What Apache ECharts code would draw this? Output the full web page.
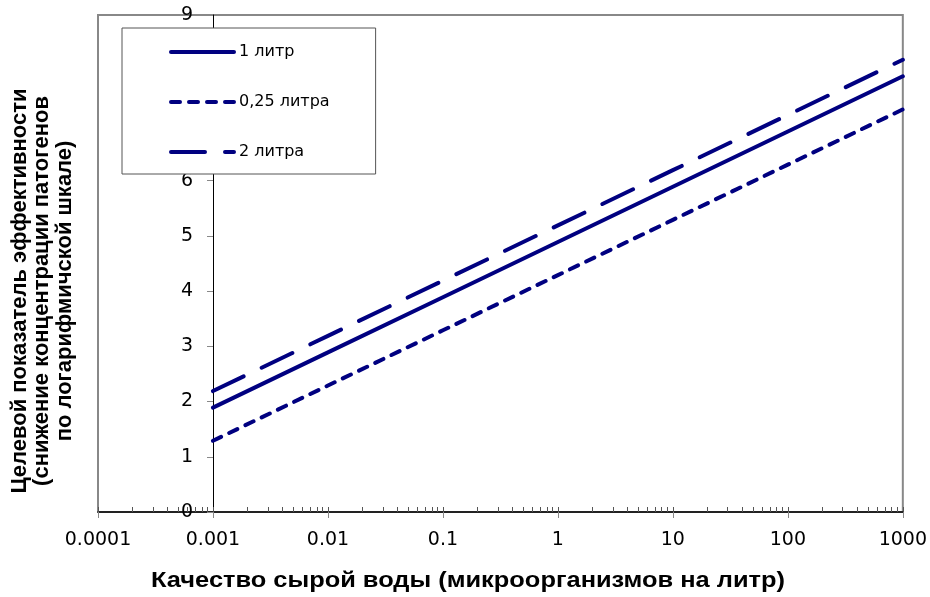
<!DOCTYPE html>
<html>
<head>
<meta charset="utf-8">
<script src="https://cdn.jsdelivr.net/npm/echarts@6/dist/echarts.min.js"></script>
<style>
html,body{margin:0;padding:0;background:#fff;}
#chart{width:930px;height:597px;}
</style>
</head>
<body>
<div id="chart"></div>
<script>
// ---- data ----
const xValues = [0.001, 0.01, 0.1, 1, 10, 100, 1000];
const seriesNames = ['1 литр', '0,25 литра', '2 литра'];
const vol1 = [1.89, 2.89, 3.89, 4.89, 5.89, 6.89, 7.89];
const vol025 = [1.29, 2.29, 3.29, 4.29, 5.29, 6.29, 7.29];
const vol2 = [2.19, 3.19, 4.19, 5.19, 6.19, 7.19, 8.19];
const xTicks = [0.0001, 0.001, 0.01, 0.1, 1, 10, 100, 1000];
const xTickLabels = ['0.0001', '0.001', '0.01', '0.1', '1', '10', '100', '1000'];
const minorMultipliers = [2, 3, 4, 5, 6, 7, 8, 9];
const yTickLabels = ['0', '1', '2', '3', '4', '5', '6', '7', '8', '9'];
const xTitle = 'Качество сырой воды (микроорганизмов на литр)';
const yTitleLines = ['Целевой показатель эффективности', '(снижение концентрации патогенов', 'по логарифмичской шкале)'];

// ---- build ----
const minorTicks = [];
xTicks.slice(0, -1).forEach(d => minorMultipliers.forEach(m => minorTicks.push(+(d * m).toPrecision(6))));
const pair = vals => xValues.map((x, i) => [x, vals[i]]);
const navy = '#000080';
const TITLE_FONT = 'Liberation Sans, Arial, sans-serif';
const LABEL_FONT = 'DejaVu Sans, sans-serif';

function xLabel(v) {
  const i = xTicks.findIndex(t => Math.abs(Math.log10(t) - Math.log10(v)) < 1e-6);
  return i >= 0 ? xTickLabels[i] : '';
}

const chart = echarts.init(document.getElementById('chart'), null, {renderer: 'canvas'});
const lineDefs = [
  {name: seriesNames[0], data: pair(vol1), type: 'solid'},
  {name: seriesNames[1], data: pair(vol025), type: [9, 9]},
  {name: seriesNames[2], data: pair(vol2), type: [34, 20]}
];

chart.setOption({
  animation: false,
  backgroundColor: '#fff',
  textStyle: {fontFamily: LABEL_FONT},
  grid: {left: 98, right: 27, top: 15, bottom: 85, show: true, borderColor: '#888', borderWidth: 2, backgroundColor: 'transparent'},
  xAxis: [{
    type: 'log', logBase: 10, min: 0.0001, max: 1000,
    axisLine: {lineStyle: {color: '#000', width: 1.5}},
    axisTick: {show: true, inside: false, length: 6, lineStyle: {color: '#888'}, customValues: xTicks},
    axisLabel: {show: true, color: '#000', fontSize: 19, margin: 19, customValues: xTicks, formatter: xLabel, fontFamily: LABEL_FONT},
    splitLine: {show: false}, minorTick: {show: false}
  }, {
    type: 'log', logBase: 10, min: 0.0001, max: 1000,
    gridIndex: 0, position: 'bottom',
    axisLine: {show: false},
    axisTick: {show: true, inside: true, length: 5, lineStyle: {color: '#555'}, customValues: minorTicks.concat(xTicks)},
    axisLabel: {show: false},
    splitLine: {show: false}
  }],
  yAxis: {
    type: 'value', min: 0, max: 9, interval: 1, offset: -115,
    axisLine: {show: true, lineStyle: {color: '#000', width: 1}},
    axisTick: {show: true, inside: false, length: 6, lineStyle: {color: '#888'}},
    axisLabel: {color: '#000', fontSize: 19, margin: 20, fontFamily: LABEL_FONT, formatter: v => yTickLabels[Math.round(v)]},
    splitLine: {show: false}
  },
  legend: {
    orient: 'vertical', left: 122, top: 28,
    padding: [16, 46, 14, 47],
    itemWidth: 63, itemHeight: 14, itemGap: 34,
    backgroundColor: '#fff', borderColor: '#555', borderWidth: 1,
    textStyle: {color: '#000', fontSize: 16, fontFamily: LABEL_FONT},
    itemStyle: {opacity: 0, borderWidth: 0},
    lineStyle: {width: 4, cap: 'round', color: navy},
    data: seriesNames,
    z: 10
  },
  graphic: [{
    type: 'text', x: 468, y: 581, scaleX: 1.155,
    style: {text: xTitle, fill: '#000', font: 'bold 22px ' + TITLE_FONT, align: 'center', verticalAlign: 'middle'}
  }, {
    type: 'text', x: 42, y: 291, rotation: Math.PI / 2,
    style: {text: yTitleLines.join('\n'), fill: '#000', font: 'bold 22px ' + TITLE_FONT, align: 'center', verticalAlign: 'middle', lineHeight: 22.5}
  }],
  series: lineDefs.map(d => ({
    name: d.name, type: 'line', data: d.data, xAxisIndex: 0,
    symbol: 'none', showSymbol: false,
    itemStyle: {color: navy},
    lineStyle: {color: navy, width: 4, type: d.type, cap: 'round'},
    z: 3
  }))
});
</script>
</body>
</html>
